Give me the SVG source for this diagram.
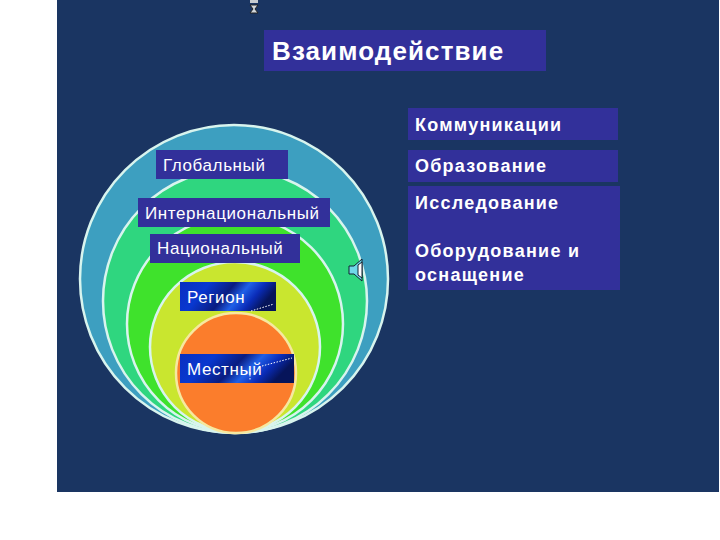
<svg xmlns="http://www.w3.org/2000/svg" width="720" height="540" viewBox="0 0 720 540">
<style>
.l{fill:#32309a}
.t{font-family:"Liberation Sans",Arial,sans-serif;fill:#fff;font-size:17px;letter-spacing:.6px}
.b{font-weight:bold;font-size:18px;letter-spacing:1.25px}
.h{font-weight:bold;font-size:26px;letter-spacing:1.1px}
.c{stroke:#d8f4ee;stroke-width:2.5}
.d{stroke:#fff;stroke-width:1;stroke-dasharray:1.5 1.5;fill:none}
</style>
<defs>
<linearGradient id="g" x1="0" y1="0" x2="1" y2="0.25">
<stop offset="0" stop-color="#0a2fc0"/><stop offset=".3" stop-color="#0838d0"/><stop offset=".55" stop-color="#0a1c80"/><stop offset=".7" stop-color="#2060e8"/><stop offset=".85" stop-color="#0a2cb8"/><stop offset="1" stop-color="#06145a"/>
</linearGradient>
</defs>
<rect width="720" height="540" fill="#fff"/>
<rect x="57" y="0" width="662" height="492" fill="#1a3562"/>
<g id="hourglass"><rect x="250" y="0" width="8" height="3" fill="#c8ccd0"/><path d="M250 5h8l-3 4 3 4h-8l3-4z" fill="#d4d8dc" stroke="#222" stroke-width="1"/></g>
<g id="title"><rect class="l" x="264" y="30" width="282" height="41"/><text class="t h" x="272" y="60">Взаимодействие</text></g>
<g id="rings">
<circle class="c" cx="234" cy="279" r="154" fill="#3d9fc0"/>
<circle class="c" cx="235" cy="301" r="132" fill="#2fd67f"/>
<circle class="c" cx="235" cy="324" r="108" fill="#3fe22c"/>
<circle class="c" cx="235" cy="347" r="85" fill="#c9e62f"/>
<circle cx="236" cy="373" r="60" fill="#fb7d2c" stroke="#f6e8a0" stroke-width="2.5"/>
</g>
<g id="global"><rect class="l" x="156" y="150" width="132" height="29"/><text class="t" x="163" y="171">Глобальный</text></g>
<g id="international"><rect class="l" x="138" y="198" width="192" height="29"/><text class="t" x="145" y="219">Интернациональный</text></g>
<g id="national"><rect class="l" x="150" y="234" width="150" height="29"/><text class="t" x="157" y="254">Национальный</text></g>
<g id="region"><rect x="180" y="282" width="96" height="29" fill="url(#g)"/><text class="t" x="187" y="303">Регион</text><path class="d" d="M251 311 274 304"/></g>
<g id="local"><rect x="180" y="354" width="114" height="29" fill="url(#g)"/><text class="t" x="187" y="375">Местный</text><path class="d" d="M262 366 292 358M250 372V381"/></g>
<g id="speaker"><path d="M349 266h5l8-7v22l-8-7h-5z" fill="#70d8e8" stroke="#123" stroke-width="1"/><path d="M358 265v10l4 3v-16z" fill="#fff" stroke="#123" stroke-width="1"/></g>
<g id="communications"><rect class="l" x="408" y="108" width="210" height="32"/><text class="t b" x="415" y="131">Коммуникации</text></g>
<g id="education"><rect class="l" x="408" y="150" width="210" height="32"/><text class="t b" x="415" y="172">Образование</text></g>
<g id="research"><rect class="l" x="408" y="186" width="212" height="104"/><text class="t b" x="415" y="209">Исследование</text><text class="t b" x="415" y="257">Оборудование и</text><text class="t b" x="415" y="281">оснащение</text></g>
</svg>
